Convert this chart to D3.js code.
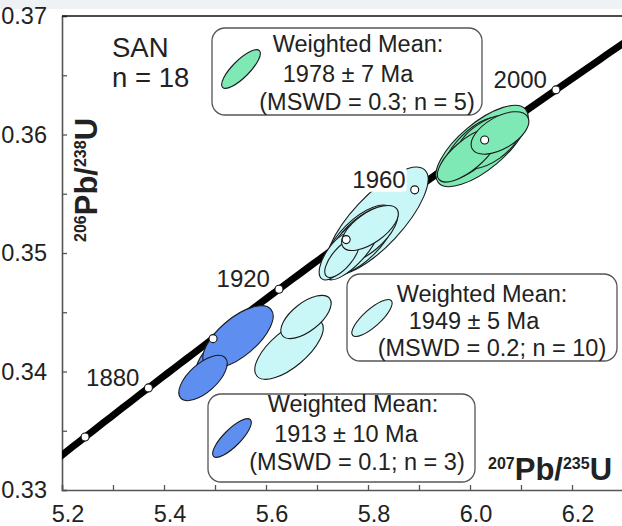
<!DOCTYPE html>
<html><head><meta charset="utf-8">
<script src="https://cdn.jsdelivr.net/npm/d3@7"></script>
<style>
html,body{margin:0;padding:0;background:#fff;}
svg{display:block;font-family:"Liberation Sans",Arial,sans-serif;}
</style></head>
<body>
<svg id="chart" width="622" height="526"></svg>
<script>
// ---- data ----
const xTicks = [5.2,5.4,5.6,5.8,6.0,6.2];
const yTicks = [0.33,0.34,0.35,0.36,0.37];
const ageMarkers = [1860,1880,1900,1920,1940,1960,1980,2000];
const ageLabels = [1880,1920,1960,2000];
// analysis ellipses: centre, half-extents (2 sigma) and error correlation
const ellGroup = ["g","g","g","g","g",
                  "c","c","c","c","c","c","c","c","c","c",
                  "b","b","b"];
const ellX   = [6.0235,6.0078,6.0353,5.9961,6.0588,
                5.8176,5.7843,5.7941,5.7647,5.7686,5.7412,5.7490,5.8039,5.6451,5.6784,
                5.5098,5.5451,5.4765];
const ellSX  = [0.0904,0.0603,0.0650,0.0601,0.0565,
                0.1002,0.0683,0.0642,0.0502,0.0539,0.0369,0.0338,0.0556,0.0670,0.0493,
                0.0474,0.0689,0.0474];
const ellY   = [0.35903,0.35886,0.35937,0.35827,0.36013,
                0.35270,0.35110,0.35152,0.35042,0.35025,0.34975,0.34958,0.35211,0.34190,0.34460,
                0.34165,0.34291,0.33945];
const ellSY  = [0.00343,0.00259,0.00230,0.00228,0.00179,
                0.00455,0.00294,0.00246,0.00242,0.00251,0.00202,0.00164,0.00190,0.00256,0.00182,
                0.00204,0.00264,0.00191];
const ellRho = [0.715,0.694,0.542,0.725,0.545,
                0.773,0.670,0.658,0.648,0.759,0.667,0.699,0.634,0.684,0.631,
                0.753,0.668,0.640];
const groupKeys = ["g","c","b"];
const groupColors = ["#7fe9b6","#c9f7f8","#5d8ef0"];
const legendLines = [
  ["Weighted Mean:","1978 \u00b1 7 Ma","(MSWD = 0.3; n = 5)"],
  ["Weighted Mean:","1949 \u00b1 5 Ma","(MSWD = 0.2; n = 10)"],
  ["Weighted Mean:","1913 \u00b1 10 Ma","(MSWD = 0.1; n = 3)"]
];
const sampleLines = ["SAN","n = 18"];
// decay constants (1/yr)
const lambda238 = 1.55125e-10, lambda235 = 9.8485e-10;

// ---- layout ----
const svg = d3.select("#chart");
const L = 62, R = 623, T = 16, B = 490;
const x = d3.scaleLinear().domain([5.2,6.3]).range([L,R]);
const y = d3.scaleLinear().domain([0.33,0.37]).range([B,T]);
const col = d3.scaleOrdinal().domain(groupKeys).range(groupColors);
const txt = "#222";

svg.append("rect").attr("x",0).attr("y",0).attr("width",622).attr("height",9).attr("fill","#eff2f4");

svg.append("defs").append("clipPath").attr("id","clip")
  .append("rect").attr("x",L).attr("y",T).attr("width",R-L).attr("height",B-T);

// axes
const xAxis = d3.axisBottom(x).tickValues(d3.range(5.2,6.31,0.1)).tickSize(-5)
  .tickFormat(d => "");
const gx = svg.append("g").attr("transform",`translate(0,${B})`).call(xAxis);
gx.select(".domain").attr("stroke","#555").attr("stroke-width",1.6);
gx.selectAll(".tick line").attr("stroke","#555").attr("stroke-width",1.3);
svg.append("g").selectAll("text").data(xTicks).join("text")
  .attr("x",d=>x(d)+6).attr("y",522).attr("text-anchor","middle")
  .attr("font-size",23.5).attr("fill",txt).text(d=>d.toFixed(1));

const yAxis = d3.axisLeft(y).tickValues(d3.range(0.33,0.3701,0.005)).tickSize(-5).tickFormat(d=>"");
const gy = svg.append("g").attr("transform",`translate(${L},0)`).call(yAxis);
gy.select(".domain").attr("stroke","#555").attr("stroke-width",1.6);
gy.selectAll(".tick line").attr("stroke","#555").attr("stroke-width",1.3);
svg.append("g").selectAll("text").data(yTicks).join("text")
  .attr("x",47).attr("y",d=>y(d)).attr("dy","0.35em").attr("text-anchor","end")
  .attr("font-size",23.5).attr("fill",txt).text(d=>d.toFixed(2));

// top frame line
svg.append("line").attr("x1",L).attr("x2",622).attr("y1",T).attr("y2",T)
  .attr("stroke","#111").attr("stroke-width",1.6);

// concordia
const plot = svg.append("g").attr("clip-path","url(#clip)");
const conc = t => ({cx: Math.exp(lambda235*t*1e6)-1, cy: Math.exp(lambda238*t*1e6)-1});
const curveAges = d3.range(1830,2051,2);
plot.append("path").datum(curveAges.map(conc))
  .attr("d",d3.line().x(d=>x(d.cx)).y(d=>y(d.cy)))
  .attr("fill","none").attr("stroke","#000").attr("stroke-width",7);

// ellipses
const kx = Math.abs(x(1)-x(0)), ky = Math.abs(y(1)-y(0));
function ellGeom(i){
  const sx = ellSX[i]*kx, sy = ellSY[i]*ky;
  const Sxx = sx*sx, Syy = sy*sy, Sxy = -ellRho[i]*sx*sy;
  const m = (Sxx+Syy)/2, d = Math.sqrt(((Sxx-Syy)/2)**2 + Sxy*Sxy);
  const ang = 0.5*Math.atan2(2*Sxy, Sxx-Syy)*180/Math.PI;
  return {cx:x(ellX[i]), cy:y(ellY[i]), rx:Math.sqrt(m+d), ry:Math.sqrt(Math.max(m-d,0.1)), ang};
}
const ellIdx = d3.range(ellX.length);
plot.append("g").selectAll("ellipse").data(ellIdx).join("ellipse")
  .each(function(i){
    const g = ellGeom(i);
    d3.select(this).attr("cx",0).attr("cy",0).attr("rx",g.rx).attr("ry",g.ry)
      .attr("transform",`translate(${g.cx},${g.cy}) rotate(${g.ang})`);
  })
  .attr("fill",i=>col(ellGroup[i])).attr("stroke","#1a1a1a").attr("stroke-width",1.1);

// age labels
const lab = svg.append("g");
ageLabels.forEach(a=>{
  const p = conc(a);
  const t = lab.append("text").attr("x",x(p.cx)-9).attr("y",y(p.cy)-2)
    .attr("text-anchor","end").attr("font-size",24).attr("fill",txt).text(a);
  if (a===1960){
    const bb = t.node().getBBox();
    lab.insert("rect","text").attr("x",bb.x-2).attr("y",bb.y+1).attr("width",bb.width+3).attr("height",bb.height-2)
      .attr("rx",4).attr("fill","#fff");
  }
});
// age markers
svg.append("g").selectAll("circle").data(ageMarkers).join("circle")
  .attr("cx",d=>x(conc(d).cx)).attr("cy",d=>y(conc(d).cy)).attr("r",4)
  .attr("fill","#fff").attr("stroke","#111").attr("stroke-width",1.1);

// sample label
svg.append("g").selectAll("text").data(sampleLines).join("text")
  .attr("x",112).attr("y",(d,i)=>57+i*30).attr("font-size",27.5).attr("fill",txt).text(d=>d);

// legend boxes
const boxes = [
  {x:212,y:28,w:270,h:87,ix:241,iy:69,ia:-45,tx:[358,348,367],ty:[52,82,110]},
  {x:347,y:274,w:270,h:87,ix:372,iy:318,ia:-42,tx:[482,474,492],ty:[302,329,356]},
  {x:208,y:394,w:267,h:88,ix:232,iy:438,ia:-45,tx:[353,346,357],ty:[412,442,470]}
];
boxes.forEach((b,k)=>{
  const g = svg.append("g");
  g.append("rect").attr("x",b.x).attr("y",b.y).attr("width",b.w).attr("height",b.h)
    .attr("rx",13).attr("fill","#fff").attr("stroke","#555").attr("stroke-width",1.3);
  g.append("ellipse").attr("rx",26).attr("ry",8.5)
    .attr("transform",`translate(${b.ix},${b.iy}) rotate(${b.ia})`)
    .attr("fill",groupColors[k]).attr("stroke","#1a1a1a").attr("stroke-width",1.1);
  legendLines[k].forEach((s,j)=>{
    g.append("text").attr("x",b.tx[j]).attr("y",b.ty[j]).attr("text-anchor","middle")
      .attr("font-size",23.5).attr("fill",txt).text(s);
  });
});

// axis titles
function isoLabel(g, sup1, sup2){
  const t = g.append("text").attr("font-weight","bold").attr("fill",txt).attr("font-size",31);
  t.append("tspan").attr("font-size",16).attr("dy",-11).text(sup1);
  t.append("tspan").attr("dy",11).text("Pb/");
  t.append("tspan").attr("font-size",16).attr("dy",-11).text(sup2);
  t.append("tspan").attr("dy",11).text("U");
}
isoLabel(svg.append("g").attr("transform","translate(488,480)"),"207","235");
isoLabel(svg.append("g").attr("transform","translate(97,242) rotate(-90)"),"206","238");
</script>
</body></html>
